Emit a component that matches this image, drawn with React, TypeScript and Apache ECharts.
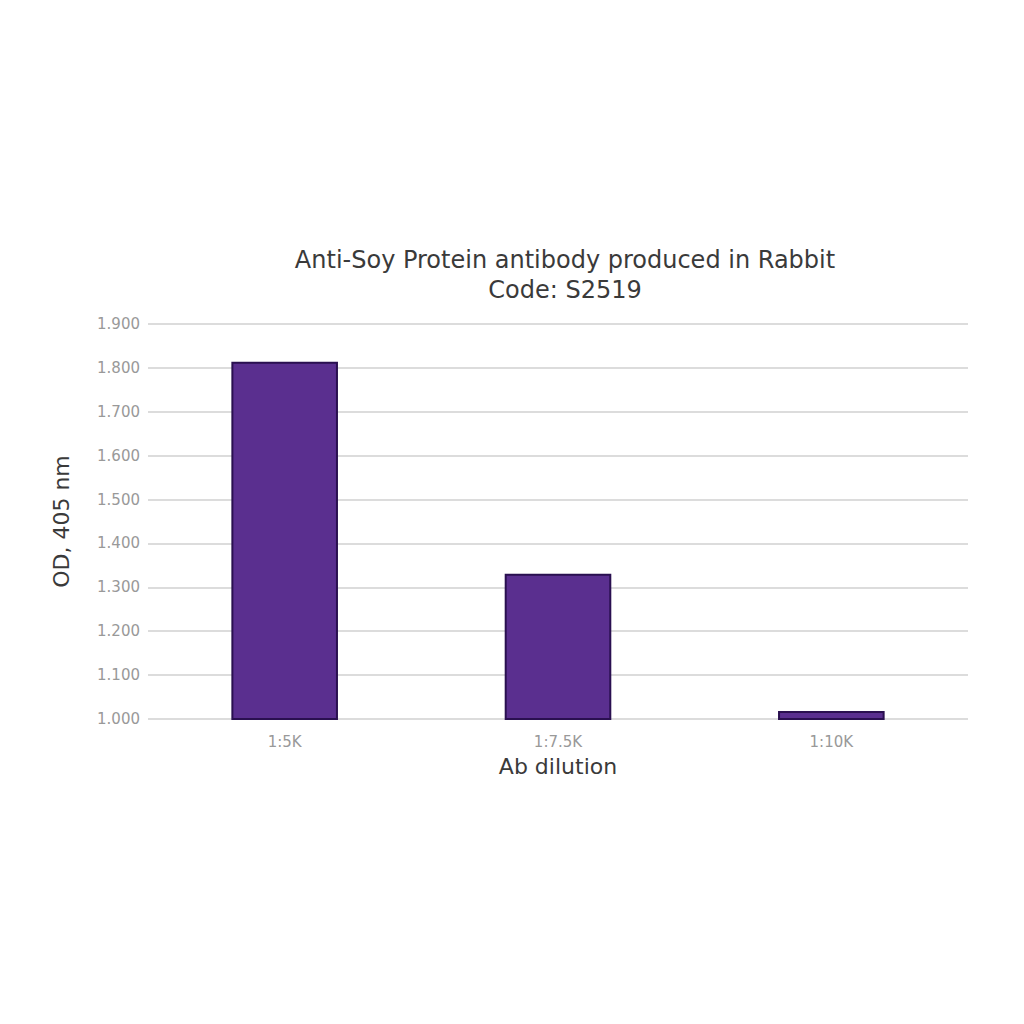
import { useEffect, useRef } from "react";
import * as echarts from "echarts";

const categories = ["1:5K", "1:7.5K", "1:10K"];
const odValues = [1.814, 1.331, 1.018];
const yTicks = { min: 1.0, max: 1.9, step: 0.1 };

const FONT = "'DejaVu Sans', Verdana, sans-serif";

export default function App() {
  const ref = useRef<HTMLDivElement>(null);
  useEffect(() => {
    if (!ref.current) return;
    const chart = echarts.init(ref.current, undefined, { renderer: "svg" });
    chart.setOption({
      animation: false,
      backgroundColor: "#ffffff",
      title: {
        text: "Anti-Soy Protein antibody produced in Rabbit\nCode: S2519",
        left: 557,
        textAlign: "center",
        top: 237,
        padding: 0,
        textStyle: {
          fontFamily: FONT,
          fontSize: 24,
          fontWeight: "normal",
          color: "#3a3a3a",
          lineHeight: 30,
        },
      },
      grid: { left: 140, right: 48, top: 316, bottom: 297 },
      xAxis: {
        type: "category",
        data: categories,
        name: "Ab dilution",
        nameLocation: "middle",
        nameGap: 36,
        nameTextStyle: { fontFamily: FONT, fontSize: 22, color: "#3a3a3a" },
        axisLine: { show: false },
        axisTick: { show: false },
        axisLabel: { fontFamily: FONT, fontSize: 15, color: "#999999", margin: 15 },
      },
      yAxis: {
        type: "value",
        min: yTicks.min,
        max: yTicks.max,
        interval: yTicks.step,
        name: "OD, 405 nm",
        nameLocation: "middle",
        nameGap: 76,
        nameTextStyle: { fontFamily: FONT, fontSize: 22, color: "#3a3a3a" },
        axisLine: { show: false },
        axisTick: { show: false },
        axisLabel: {
          fontFamily: FONT,
          fontSize: 15,
          color: "#999999",
          margin: 8,
          formatter: (v: number) => v.toFixed(3),
        },
        splitLine: { lineStyle: { color: "#dcdcdc", width: 2 } },
      },
      series: [
        {
          type: "bar",
          data: odValues,
          barWidth: "39%",
          itemStyle: { color: "#5a2f8f", borderColor: "#2a1050", borderWidth: 2 },
        },
      ],
    });
    return () => chart.dispose();
  }, []);
  return <div ref={ref} style={{ width: 1008, height: 1008 }} />;
}
